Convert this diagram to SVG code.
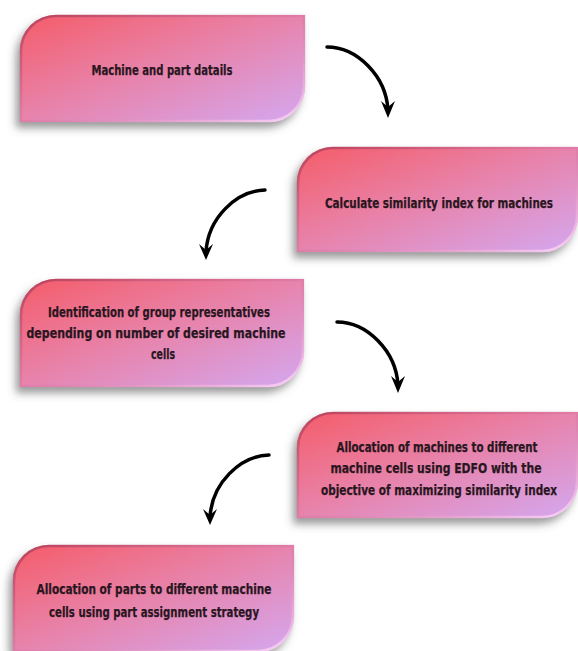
<svg xmlns="http://www.w3.org/2000/svg" width="578" height="651" viewBox="0 0 578 651">
<defs>
<linearGradient id="fillG" x1="0" y1="0" x2="1" y2="1">
<stop offset="0" stop-color="#f55c68"/>
<stop offset="0.5" stop-color="#e784ad"/>
<stop offset="1" stop-color="#d4a8f0"/>
</linearGradient>
<linearGradient id="edgeG" x1="0" y1="0" x2="1" y2="1">
<stop offset="0" stop-color="#b8405a"/>
<stop offset="0.55" stop-color="#d87aa8" stop-opacity="0.4"/>
<stop offset="1" stop-color="#fbd6fb"/>
</linearGradient>
<filter id="shadow" x="-10%" y="-15%" width="120%" height="140%">
<feGaussianBlur in="SourceAlpha" stdDeviation="4"/>
<feOffset dx="-4" dy="6" result="b"/>
<feFlood flood-color="#555" flood-opacity="0.6"/>
<feComposite in2="b" operator="in" result="s"/>
<feMerge><feMergeNode in="s"/><feMergeNode in="SourceGraphic"/></feMerge>
</filter>
</defs>
<style>
.box{fill:url(#fillG);filter:url(#shadow);}
.edge{fill:none;stroke:url(#edgeG);stroke-width:2.5;}
.lbl{font-family:"DejaVu Sans Condensed","Liberation Sans",Arial,sans-serif;font-stretch:condensed;font-weight:bold;font-size:14.5px;fill:#2a1620;stroke:#2a1620;stroke-width:0.25;text-anchor:middle;}
.shaft{fill:none;stroke:#000;stroke-width:3.5;stroke-linecap:round;}
.head{fill:#000;}
</style>
<g id="node1">
<path class="box" d="M20,51 A36,36 0 0 1 56,15 L305,15 L305,86 A36,36 0 0 1 269,122 L20,122 Z"/>
<path class="edge" d="M21,51 A35,35 0 0 1 56,16 L304,16 L304,86 A35,35 0 0 1 269,121 L21,121 Z"/>
<text class="lbl" x="162" y="75" textLength="141" lengthAdjust="spacingAndGlyphs">Machine and part datails</text>
</g>
<g id="node2">
<path class="box" d="M297,183 A36,36 0 0 1 333,147 L578,147 L578,216 A36,36 0 0 1 542,252 L297,252 Z"/>
<path class="edge" d="M298,183 A35,35 0 0 1 333,148 L577,148 L577,216 A35,35 0 0 1 542,251 L298,251 Z"/>
<text class="lbl" x="439" y="208" textLength="228" lengthAdjust="spacingAndGlyphs">Calculate similarity index for machines</text>
</g>
<g id="node3">
<path class="box" d="M20,315 A36,36 0 0 1 56,279 L304,279 L304,351 A36,36 0 0 1 268,387 L20,387 Z"/>
<path class="edge" d="M21,315 A35,35 0 0 1 56,280 L303,280 L303,351 A35,35 0 0 1 268,386 L21,386 Z"/>
<text class="lbl" x="159" y="317" textLength="222" lengthAdjust="spacingAndGlyphs">Identification of group representatives</text>
<text class="lbl" x="156" y="338" textLength="259" lengthAdjust="spacingAndGlyphs">depending on number of desired machine</text>
<text class="lbl" x="163" y="359" textLength="24" lengthAdjust="spacingAndGlyphs">cells</text>
</g>
<g id="node4">
<path class="box" d="M297,448 A36,36 0 0 1 333,412 L578,412 L578,482 A36,36 0 0 1 542,518 L297,518 Z"/>
<path class="edge" d="M298,448 A35,35 0 0 1 333,413 L577,413 L577,482 A35,35 0 0 1 542,517 L298,517 Z"/>
<text class="lbl" x="437" y="452" textLength="201" lengthAdjust="spacingAndGlyphs">Allocation of machines to different</text>
<text class="lbl" x="436" y="473" textLength="211" lengthAdjust="spacingAndGlyphs">machine cells using EDFO with the</text>
<text class="lbl" x="439" y="495" textLength="236" lengthAdjust="spacingAndGlyphs">objective of maximizing similarity index</text>
</g>
<g id="node5">
<path class="box" d="M13,581 A36,36 0 0 1 49,545 L294,545 L294,616 A36,36 0 0 1 258,652 L13,652 Z"/>
<path class="edge" d="M14,581 A35,35 0 0 1 49,546 L293,546 L293,616 A35,35 0 0 1 258,651 L14,651 Z"/>
<text class="lbl" x="154" y="594" textLength="235" lengthAdjust="spacingAndGlyphs">Allocation of parts to different machine</text>
<text class="lbl" x="154" y="617" textLength="210" lengthAdjust="spacingAndGlyphs">cells using part assignment strategy</text>
</g>
<g id="connectors">
<path class="shaft" d="M327,47 C357,47 386,76 388,110"/>
<polygon class="head" points="388,118 381,101 388,107 395,101"/>
<path class="shaft" d="M265,190 C236,191 208,218 206,252"/>
<polygon class="head" points="206,260 199,244 206,250 213,244"/>
<path class="shaft" d="M337,322 C367,322 396,351 398,385"/>
<polygon class="head" points="398,393 391,376 398,382 405,376"/>
<path class="shaft" d="M269,455 C240,456 212,483 210,517"/>
<polygon class="head" points="210,525 203,509 210,515 217,509"/>
</g>
</svg>
